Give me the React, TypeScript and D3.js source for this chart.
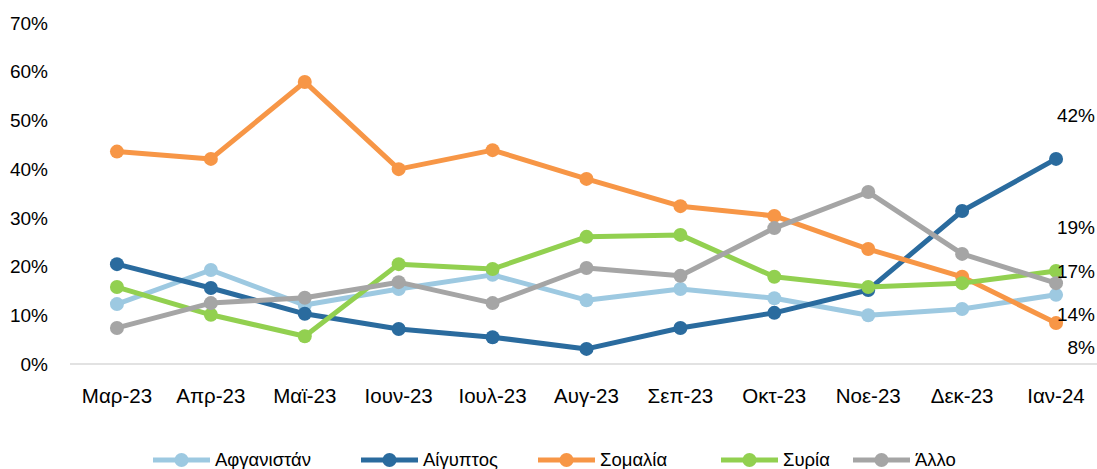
import React from 'react';
import * as d3 from 'd3';

const months = ['Μαρ-23', 'Απρ-23', 'Μαϊ-23', 'Ιουν-23', 'Ιουλ-23', 'Αυγ-23', 'Σεπ-23', 'Οκτ-23', 'Νοε-23', 'Δεκ-23', 'Ιαν-24'];

const afghanistan = [12.3, 19.3, 12.1, 15.4, 18.3, 13.1, 15.4, 13.5, 10.0, 11.3, 14.2];
const egypt = [20.5, 15.6, 10.3, 7.2, 5.5, 3.1, 7.4, 10.5, 15.2, 31.4, 42.1];
const somalia = [43.6, 42.1, 57.9, 40.0, 43.9, 38.0, 32.4, 30.4, 23.6, 17.9, 8.4];
const syria = [15.8, 10.1, 5.7, 20.5, 19.5, 26.1, 26.5, 17.9, 15.8, 16.6, 19.1];
const other = [7.4, 12.5, 13.6, 16.8, 12.5, 19.7, 18.1, 27.9, 35.3, 22.6, 16.6];

const seriesNames = ['Αφγανιστάν', 'Αίγυπτος', 'Σομαλία', 'Συρία', 'Άλλο'];
const seriesValues = [afghanistan, egypt, somalia, syria, other];
const colors = ['#9DC9E1', '#2A6B9E', '#F79646', '#92D050', '#A5A5A5'];

// data labels on the last month
const endLabels = ['14%', '42%', '8%', '19%', '17%'];
const endLabelDy = [20, -44, 24, -44, -12];

const yTicks = [0, 10, 20, 30, 40, 50, 60, 70];

const W = 1097, H = 469;
const font = 'Liberation Sans, Arial, sans-serif';

export default function App() {
  const x = d3.scaleBand<string>().domain(months).range([70, 1103]);
  const y = d3.scaleLinear().domain([0, 70]).range([364, 23]);
  const cx = (m: string) => (x(m) as number) + x.bandwidth() / 2;

  const line = d3.line<number>()
    .x((_, i) => cx(months[i]))
    .y(d => y(d));

  const legendX = [153, 361, 538, 721, 853];

  return (
    <svg width={W} height={H} style={{ position: 'absolute', left: 0, top: 0, background: '#fff' }}
      fontFamily={font}>
      <line x1={70} x2={W} y1={y(0)} y2={y(0)} stroke="#D9D9D9" strokeWidth={1.5} />
      {yTicks.map(t => (
        <text key={t} x={48} y={y(t)} dy="0.35em" textAnchor="end" fontSize={19} fill="#000">{t}%</text>
      ))}
      {months.map(m => (
        <text key={m} x={cx(m)} y={396} dy="0.35em" textAnchor="middle" fontSize={20.5} fill="#000">{m}</text>
      ))}
      {seriesValues.map((vals, s) => (
        <g key={seriesNames[s]}>
          <path d={line(vals) || ''} fill="none" stroke={colors[s]} strokeWidth={5} strokeLinejoin="round" />
          {vals.map((v, i) => (
            <circle key={i} cx={cx(months[i])} cy={y(v)} r={7} fill={colors[s]} />
          ))}
        </g>
      ))}
      {seriesValues.map((vals, s) => (
        <text key={'l' + s} x={1095} y={y(vals[vals.length - 1]) + endLabelDy[s]} dy="0.35em"
          textAnchor="end" fontSize={19} fill="#000">{endLabels[s]}</text>
      ))}
      {seriesNames.map((n, s) => (
        <g key={'lg' + n} transform={`translate(${legendX[s]},460)`}>
          <line x1={0} x2={57} y1={0} y2={0} stroke={colors[s]} strokeWidth={5} />
          <circle cx={28.5} cy={0} r={7} fill={colors[s]} />
          <text x={62} y={0} dy="0.35em" fontSize={18.5} fill="#000">{n}</text>
        </g>
      ))}
    </svg>
  );
}
